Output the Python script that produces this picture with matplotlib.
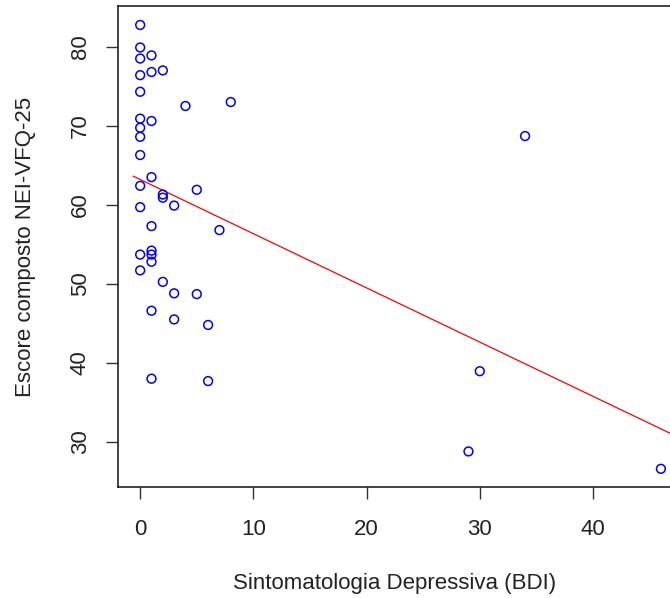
import numpy as np
import matplotlib
matplotlib.use("Agg")
import matplotlib.pyplot as plt

# BDI score (x) and NEI-VFQ-25 composite score (y)
bdi = [0, 0, 0, 1, 0, 1, 2, 0, 4, 8, 0, 1, 0, 0, 0,
       1, 0, 2, 2, 5, 0, 3, 1, 7, 0, 1, 1, 1, 0, 2, 3, 5,
       1, 3, 6, 1, 6,
       34, 30, 29, 46]
vfq = [82.75, 79.9, 78.5, 78.9, 76.4, 76.8, 77.0, 74.3, 72.5, 73.0, 70.9, 70.6, 69.75, 68.6, 66.3,
       63.5, 62.4, 61.3, 60.9, 61.9, 59.7, 59.9, 57.3, 56.8, 53.7, 54.2, 53.7, 52.8, 51.7, 50.25, 48.8, 48.7,
       46.6, 45.5, 44.8, 38.0, 37.7,
       68.7, 38.95, 28.8, 26.6]

x_ticks = [0, 10, 20, 30, 40]
y_ticks = [30, 40, 50, 60, 70, 80]
x_label = "Sintomatologia Depressiva (BDI)"
y_label = "Escore composto NEI-VFQ-25"
fit_x_start = -0.6  # fitted line drawn from here to the right edge

plt.rcParams['font.family'] = ['Liberation Sans', 'DejaVu Sans']

W, H = 670, 598
fig = plt.figure(figsize=(W / 100, H / 100), dpi=100)
ax = fig.add_axes([118 / W, 111 / H, 554 / W, 481 / H])

xl = (-1.96, 46.98)
ax.scatter(bdi, vfq, s=40, facecolors='none', edgecolors='#0000ff', linewidths=1.1, zorder=3)

slope, intercept = np.polyfit(np.array(bdi, float), np.array(vfq, float), 1)
xs = np.array([fit_x_start, xl[1]])
ax.plot(xs, intercept + slope * xs, color='#ff0000', lw=0.9, zorder=2)

ax.set_xlim(*xl)
ax.set_ylim(24.3, 85.15)
ax.set_xticks(x_ticks)
ax.set_yticks(y_ticks)
ax.tick_params(axis='both', direction='out', length=8.6, width=1, colors='#333333',
               labelcolor='#222222', labelsize=16)
ax.tick_params(axis='x', pad=14.5)
ax.tick_params(axis='y', pad=11)
for lab in ax.get_yticklabels():
    lab.set_rotation(90)
    lab.set_va('center')
for sp in ax.spines.values():
    sp.set_linewidth(1.2)
    sp.set_color('#222222')

ax.set_xlabel(x_label, fontsize=16, color='#222222', labelpad=24)
ax.set_ylabel(y_label, fontsize=16, color='#222222', labelpad=24)

fig.savefig("out.png", dpi=100)
